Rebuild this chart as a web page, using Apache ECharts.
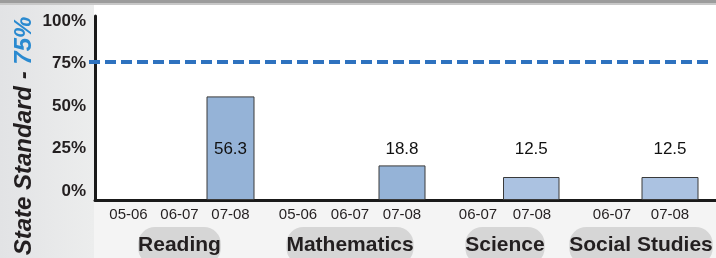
<!DOCTYPE html>
<html lang="en">
<head>
    <meta charset="utf-8"/>
    <title>State Standard</title>
    <style>
        html, body { margin: 0; padding: 0; background: #fff; }
        #chart { width: 716px; height: 258px; }
    </style>
</head>
<body>
<div id="chart"></div>

<script src="https://cdn.jsdelivr.net/npm/echarts@6/dist/echarts.min.js"></script>
<script type="text/javascript">
    // data
    var yTicks = [0, 25, 50, 75, 100];
    var stateStandard = 75;

    var readingYears = ['05-06', '06-07', '07-08'];
    var readingValues = [null, null, 56.3];

    var mathYears = ['05-06', '06-07', '07-08'];
    var mathValues = [null, null, 18.8];

    var scienceYears = ['06-07', '07-08'];
    var scienceValues = [null, 12.5];

    var socialYears = ['06-07', '07-08'];
    var socialValues = [null, 12.5];

    var groups = [
        {name: 'Reading', years: readingYears, values: readingValues, left: 103, width: 153, bar: 48, color: '#95b3d7', pill: 157},
        {name: 'Mathematics', years: mathYears, values: mathValues, left: 272, width: 156, bar: 47, color: '#95b3d7', pill: 158},
        {name: 'Science', years: scienceYears, values: scienceValues, left: 451, width: 108, bar: 58, color: '#abc2e1', pill: 118},
        {name: 'Social Studies', years: socialYears, values: socialValues, left: 583, width: 116, bar: 57, color: '#abc2e1', pill: 150}
    ];

    var font = '"Liberation Sans", Arial, Helvetica, sans-serif';
    var TOP = 16, BOTTOM = 58;
    var noBounds = {outerBoundsMode: 'none', containLabel: false};

    var dom = document.getElementById('chart');
    var myChart = echarts.init(dom, null, {renderer: 'canvas'});

    var grid = [], xAxis = [], yAxis = [], series = [];

    function addGrid(g) {
        grid.push(Object.assign({}, noBounds, g));
        return grid.length - 1;
    }

    // main frame: y axis line + baseline
    var g0 = addGrid({left: 95, right: 0, top: TOP, bottom: BOTTOM});
    xAxis.push({
        gridIndex: g0, type: 'category', data: [''],
        axisLine: {show: true, lineStyle: {color: '#1a1a1a', width: 3}},
        axisTick: {show: false}, axisLabel: {show: false}
    });
    yAxis.push({
        gridIndex: g0, type: 'value', min: 0, max: 100,
        axisLine: {show: true, lineStyle: {color: '#1a1a1a', width: 3}},
        axisTick: {show: false}, splitLine: {show: false}, axisLabel: {show: false}
    });

    // tick labels sit a little tighter than the bar scale in the original
    var gl = addGrid({left: 95, right: 0, top: 21, bottom: 67});
    xAxis.push({gridIndex: gl, type: 'value', show: false, min: 0, max: 1});
    yAxis.push({
        gridIndex: gl, type: 'value', min: yTicks[0], max: yTicks[yTicks.length - 1], interval: yTicks[1] - yTicks[0],
        axisLine: {show: false}, axisTick: {show: false}, splitLine: {show: false},
        axisLabel: {
            formatter: '{value}%', color: '#231f20', fontFamily: font,
            fontSize: 17, fontWeight: 'bold', margin: 9
        }
    });

    // the dashed standard line
    var gm = addGrid({left: 89, right: 8, top: TOP, bottom: BOTTOM});
    xAxis.push({gridIndex: gm, type: 'value', show: false, min: 0, max: 1});
    yAxis.push({gridIndex: gm, type: 'value', show: false, min: 0, max: 100});
    series.push({
        type: 'line', xAxisIndex: gm, yAxisIndex: gm, data: [], silent: true,
        markLine: {
            symbol: 'none', silent: true, animation: false,
            label: {show: false},
            lineStyle: {color: '#2e72bf', width: 4, type: [11, 5]},
            data: [{yAxis: stateStandard}]
        }
    });

    groups.forEach(function (g) {
        var gi = addGrid({left: g.left, width: g.width, top: TOP, bottom: BOTTOM});
        xAxis.push({
            gridIndex: gi, type: 'category', data: g.years,
            axisLine: {show: false}, axisTick: {show: false},
            axisLabel: {color: '#231f20', fontFamily: font, fontSize: 15, margin: 7},
            name: g.name, nameLocation: 'middle', nameGap: 23,
            nameTextStyle: {
                color: '#231f20', fontFamily: font, fontSize: 21, fontWeight: 'bold',
                backgroundColor: '#d6d6d6', borderRadius: 17,
                width: g.pill, align: 'center', lineHeight: 24, padding: [6, 0, 8, 0]
            }
        });
        yAxis.push({gridIndex: gi, type: 'value', show: false, min: 0, max: 100});
        series.push({
            type: 'bar', xAxisIndex: gi, yAxisIndex: gi, data: g.values,
            barWidth: g.bar,
            itemStyle: {color: g.color, borderColor: '#3a3a3a', borderWidth: 1},
            label: {
                show: true, position: 'insideBottom', distance: 42,
                color: '#111', fontFamily: font, fontSize: 17
            }
        });
    });

    var option = {
        animation: false,
        backgroundColor: '#ffffff',
        graphic: [
            {type: 'rect', z: -10, shape: {x: 0, y: 0, width: 94, height: 258},
                style: {fill: new echarts.graphic.LinearGradient(0, 0, 1, 0, [
                    {offset: 0, color: '#e2e3e5'}, {offset: 1, color: '#eceded'}])}},
            {type: 'rect', z: -10, shape: {x: 94, y: 200, width: 622, height: 58},
                style: {fill: '#f4f4f4'}},
            {type: 'rect', z: -9, shape: {x: 0, y: 0, width: 716, height: 3},
                style: {fill: '#9c9c9c'}},
            {type: 'rect', z: -9, shape: {x: 0, y: 3, width: 716, height: 2},
                style: {fill: '#c8c8c8'}},
            {
                type: 'text', z: 10, x: 24, y: 136, rotation: Math.PI / 2,
                style: {
                    text: '{a|State Standard - }{b|75%}',
                    align: 'center', verticalAlign: 'middle',
                    rich: {
                        a: {fontFamily: font, fontSize: 24, fontWeight: 'bold', fontStyle: 'italic', fill: '#231f20'},
                        b: {fontFamily: font, fontSize: 24, fontWeight: 'bold', fontStyle: 'italic', fill: '#2a8ad0'}
                    }
                }
            }
        ],
        grid: grid,
        xAxis: xAxis,
        yAxis: yAxis,
        series: series
    };

    if (option && typeof option === 'object') {
        myChart.setOption(option, true);
    }
</script>
</body>
</html>
